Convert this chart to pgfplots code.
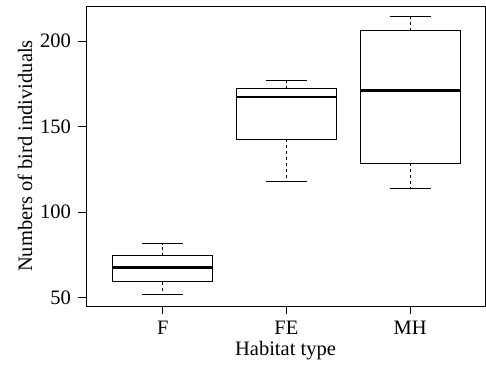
\documentclass[border=0pt]{standalone}
\usepackage{fontspec}
\setmainfont{Liberation Serif}
\usepackage{pgfplots}
\pgfplotsset{compat=1.18}
\usepgfplotslibrary{statistics}
\begin{document}
\fontsize{20.5}{24}\selectfont
\begin{tikzpicture}
\begin{axis}[
  scale only axis, width=399pt, height=300pt,
  xmin=0.38, xmax=3.605, ymin=45.1, ymax=220.5,
  xtick={1,2,3}, xticklabels={F,FE,MH},
  ytick={50,100,150,200},
  tick align=outside, xtick pos=bottom, ytick pos=left,
  major tick length=8pt,
  /pgf/number format/assume math mode=true,
  tick label style={font=\fontsize{20.5}{24}\selectfont},
  label style={font=\fontsize{20.5}{24}\selectfont},
  xlabel={Habitat type}, ylabel={Numbers of bird individuals},
  every axis x label/.style={at={(axis description cs:0.5,-0.147)}, anchor=center},
  every axis y label/.style={at={(axis description cs:-0.153,0.5)}, anchor=center, rotate=90},
  axis line style={line width=0.9pt},
  every tick/.style={black, line width=0.8pt},
  boxplot/draw direction=y,
  boxplot/box extend=0.805,
  boxplot/whisker extend=0.33,
  boxplot/every box/.style={line width=0.9pt},
  boxplot/every median/.style={line width=2.6pt},
  boxplot/draw/lower whisker/.code={%
    \draw[line width=0.8pt, dash pattern=on 3pt off 3pt]
      (boxplot box cs:\pgfplotsboxplotvalue{lower quartile},0.5) --
      (boxplot box cs:\pgfplotsboxplotvalue{lower whisker},0.5);
    \draw[line width=0.9pt]
      (boxplot whisker cs:\pgfplotsboxplotvalue{lower whisker},0) --
      (boxplot whisker cs:\pgfplotsboxplotvalue{lower whisker},1);},
  boxplot/draw/upper whisker/.code={%
    \draw[line width=0.8pt, dash pattern=on 3pt off 3pt]
      (boxplot box cs:\pgfplotsboxplotvalue{upper quartile},0.5) --
      (boxplot box cs:\pgfplotsboxplotvalue{upper whisker},0.5);
    \draw[line width=0.9pt]
      (boxplot whisker cs:\pgfplotsboxplotvalue{upper whisker},0) --
      (boxplot whisker cs:\pgfplotsboxplotvalue{upper whisker},1);},
]
\addplot[black, boxplot prepared={lower whisker=51.8, lower quartile=59.4,
  median=67.5, upper quartile=74.5, upper whisker=81.6, draw position=1}]
  coordinates {};
\addplot[black, boxplot prepared={lower whisker=117.8, lower quartile=142.7,
  median=167.3, upper quartile=172.1, upper whisker=177.2, draw position=2}]
  coordinates {};
\addplot[black, boxplot prepared={lower whisker=113.7, lower quartile=128.5,
  median=171.0, upper quartile=206.0, upper whisker=214.2, draw position=3}]
  coordinates {};
\end{axis}
\pgfresetboundingbox
\useasboundingbox (-86pt,-59pt) rectangle (400pt,306pt);
\end{tikzpicture}
\end{document}
